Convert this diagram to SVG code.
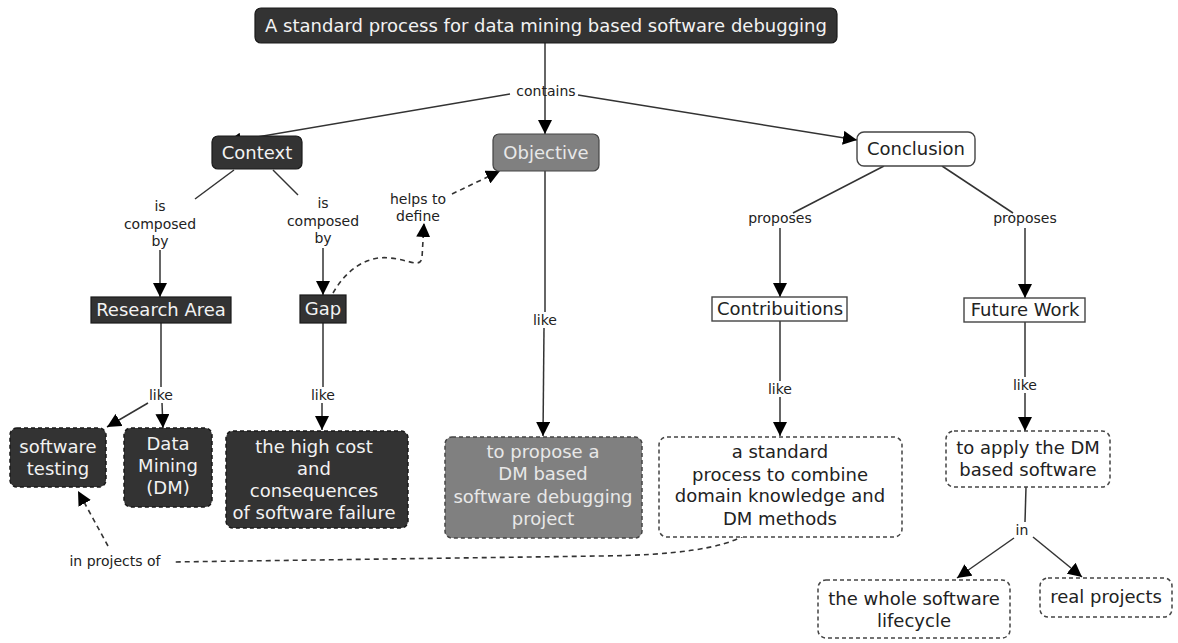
<svg xmlns="http://www.w3.org/2000/svg" width="1178" height="643" viewBox="0 0 1178 643">
  <style>
    .dark { fill: #333333; stroke: #1a1a1a; stroke-width: 1.2; }
    .grey { fill: #808080; stroke: #444444; stroke-width: 1.2; }
    .light { fill: #ffffff; stroke: #444444; stroke-width: 1.4; }
    .dash { stroke-dasharray: 4 3; stroke-width: 1.5; }
    .t { font-family: "DejaVu Sans", Verdana, sans-serif; font-size: 18px; text-anchor: middle; }
    .tw { fill: #f2f2f2; }
    .tg { fill: #e8e8e8; }
    .tb { fill: #222222; }
    .lbl { font-family: "DejaVu Sans", Verdana, sans-serif; font-size: 14px; text-anchor: middle; fill: #222222; }
    .ln { fill: none; stroke: #333333; stroke-width: 1.5; }
    .dl { fill: none; stroke: #333333; stroke-width: 1.6; stroke-dasharray: 5 4; }
  </style>
  <defs>
    <marker id="arrow" markerUnits="userSpaceOnUse" markerWidth="14" markerHeight="14" viewBox="0 0 14 14" refX="14" refY="7" orient="auto">
      <path d="M0,0 L14,7 L0,14 z" fill="#000000"/>
    </marker>
  </defs>
  <rect width="1178" height="643" fill="#ffffff"/>

  <!-- connectors -->
  <g id="connectors">
    <line class="ln" x1="545" y1="43" x2="545" y2="134" marker-end="url(#arrow)"/>
    <line class="ln" x1="510" y1="94" x2="227" y2="142" marker-end="url(#arrow)"/>
    <line class="ln" x1="578" y1="95" x2="857" y2="140" marker-end="url(#arrow)"/>
    <line class="ln" x1="234" y1="170" x2="195" y2="199"/>
    <line class="ln" x1="273" y1="170" x2="298" y2="195"/>
    <line class="ln" x1="160" y1="250" x2="160" y2="297" marker-end="url(#arrow)"/>
    <line class="ln" x1="323" y1="248" x2="323" y2="295" marker-end="url(#arrow)"/>
    <line class="ln" x1="161" y1="323" x2="161" y2="387"/>
    <line class="ln" x1="162" y1="403" x2="163" y2="428" marker-end="url(#arrow)"/>
    <line class="ln" x1="148" y1="403" x2="107" y2="427" marker-end="url(#arrow)"/>
    <line class="ln" x1="323" y1="323" x2="323" y2="387"/>
    <line class="ln" x1="322" y1="403" x2="322" y2="430" marker-end="url(#arrow)"/>
    <path class="dl" d="M333,293 C345,272 365,255 390,258 C410,260 420,268 422,258 L424,223" marker-end="url(#arrow)"/>
    <line class="dl" x1="452" y1="194" x2="500" y2="171" marker-end="url(#arrow)"/>
    <line class="ln" x1="545" y1="171" x2="545" y2="312"/>
    <line class="ln" x1="544" y1="328" x2="543" y2="436" marker-end="url(#arrow)"/>
    <line class="ln" x1="884" y1="166" x2="793" y2="213"/>
    <line class="ln" x1="942" y1="166" x2="1013" y2="213"/>
    <line class="ln" x1="780" y1="228" x2="780" y2="297" marker-end="url(#arrow)"/>
    <line class="ln" x1="1025" y1="228" x2="1025" y2="298" marker-end="url(#arrow)"/>
    <line class="ln" x1="780" y1="321" x2="780" y2="381"/>
    <line class="ln" x1="780" y1="397" x2="780" y2="436" marker-end="url(#arrow)"/>
    <line class="ln" x1="1025" y1="322" x2="1025" y2="377"/>
    <line class="ln" x1="1025" y1="393" x2="1025" y2="431" marker-end="url(#arrow)"/>
    <line class="ln" x1="1026" y1="487" x2="1025" y2="522"/>
    <line class="ln" x1="1014" y1="538" x2="957" y2="578" marker-end="url(#arrow)"/>
    <line class="ln" x1="1033" y1="537" x2="1082" y2="577" marker-end="url(#arrow)"/>
    <path class="dl" d="M745,535 Q712,555 600,556 L172,562"/>
    <line class="dl" x1="108" y1="546" x2="78" y2="491" marker-end="url(#arrow)"/>

    <text class="lbl" x="546" y="96">contains</text>
    <text class="lbl" x="160" y="211">is</text>
    <text class="lbl" x="160" y="229">composed</text>
    <text class="lbl" x="160" y="246">by</text>
    <text class="lbl" x="323" y="208">is</text>
    <text class="lbl" x="323" y="226">composed</text>
    <text class="lbl" x="323" y="243">by</text>
    <text class="lbl" x="418" y="204">helps to</text>
    <text class="lbl" x="418" y="221">define</text>
    <text class="lbl" x="161" y="400">like</text>
    <text class="lbl" x="323" y="400">like</text>
    <text class="lbl" x="545" y="325">like</text>
    <text class="lbl" x="780" y="223">proposes</text>
    <text class="lbl" x="1025" y="223">proposes</text>
    <text class="lbl" x="780" y="394">like</text>
    <text class="lbl" x="1025" y="390">like</text>
    <text class="lbl" x="1022" y="535">in</text>
    <text class="lbl" x="115" y="566">in projects of</text>
  </g>

  <!-- nodes -->
  <g id="title">
    <rect class="dark" x="255" y="8" width="582" height="35" rx="6"/>
    <text class="t tw" x="546" y="32">A standard process for data mining based software debugging</text>
  </g>
  <g id="context">
    <rect class="dark" x="212" y="136" width="90" height="33" rx="6"/>
    <text class="t tw" x="257" y="159">Context</text>
  </g>
  <g id="objective">
    <rect class="grey" x="493" y="134" width="106" height="37" rx="6"/>
    <text class="t tg" x="546" y="159">Objective</text>
  </g>
  <g id="conclusion">
    <rect class="light" x="857" y="132" width="118" height="34" rx="7"/>
    <text class="t tb" x="916" y="155">Conclusion</text>
  </g>
  <g id="research-area">
    <rect class="dark" x="91" y="297" width="140" height="26"/>
    <text class="t tw" x="161" y="316">Research Area</text>
  </g>
  <g id="gap">
    <rect class="dark" x="300" y="295" width="46" height="28"/>
    <text class="t tw" x="323" y="315">Gap</text>
  </g>
  <g id="software-testing">
    <rect class="dark dash" x="10" y="428" width="96" height="59" rx="7"/>
    <text class="t tw" x="58" y="453">software</text>
    <text class="t tw" x="58" y="475">testing</text>
  </g>
  <g id="data-mining">
    <rect class="dark dash" x="124" y="428" width="88" height="79" rx="7"/>
    <text class="t tw" x="168" y="450">Data</text>
    <text class="t tw" x="168" y="472">Mining</text>
    <text class="t tw" x="168" y="494">(DM)</text>
  </g>
  <g id="high-cost">
    <rect class="dark dash" x="226" y="431" width="182" height="97" rx="7"/>
    <text class="t tw" x="314" y="453">the high cost</text>
    <text class="t tw" x="314" y="475">and</text>
    <text class="t tw" x="314" y="497">consequences</text>
    <text class="t tw" x="314" y="519">of software failure</text>
  </g>
  <g id="propose-project">
    <rect class="grey dash" x="445" y="437" width="197" height="101" rx="7"/>
    <text class="t tg" x="543" y="458">to propose a</text>
    <text class="t tg" x="543" y="480">DM based</text>
    <text class="t tg" x="543" y="503">software debugging</text>
    <text class="t tg" x="543" y="525">project</text>
  </g>
  <g id="contributions">
    <rect class="light" x="712" y="297" width="135" height="24"/>
    <text class="t tb" x="780" y="315">Contribuitions</text>
  </g>
  <g id="future-work">
    <rect class="light" x="964" y="298" width="121" height="24"/>
    <text class="t tb" x="1025" y="316">Future Work</text>
  </g>
  <g id="standard-process">
    <rect class="light dash" x="659" y="437" width="243" height="100" rx="8"/>
    <text class="t tb" x="780" y="458">a standard</text>
    <text class="t tb" x="780" y="481">process to combine</text>
    <text class="t tb" x="780" y="502">domain knowledge and</text>
    <text class="t tb" x="780" y="525">DM methods</text>
  </g>
  <g id="apply-dm">
    <rect class="light dash" x="946" y="431" width="164" height="56" rx="8"/>
    <text class="t tb" x="1028" y="454">to apply the DM</text>
    <text class="t tb" x="1028" y="476">based software</text>
  </g>
  <g id="whole-lifecycle">
    <rect class="light dash" x="818" y="580" width="192" height="58" rx="8"/>
    <text class="t tb" x="914" y="605">the whole software</text>
    <text class="t tb" x="914" y="627">lifecycle</text>
  </g>
  <g id="real-projects">
    <rect class="light dash" x="1040" y="578" width="132" height="39" rx="8"/>
    <text class="t tb" x="1106" y="603">real projects</text>
  </g>
</svg>
